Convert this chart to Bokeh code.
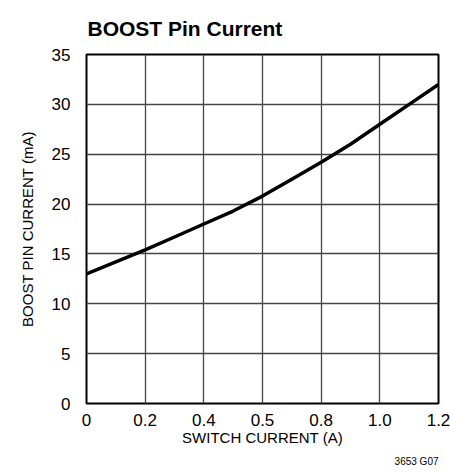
from bokeh.plotting import figure
from bokeh.models import Range1d, FixedTicker, Title, CustomJSTickFormatter
from bokeh.embed import file_html
from bokeh.resources import INLINE

# data
switch_current = [0.0, 0.1, 0.2, 0.3, 0.4, 0.5, 0.6, 0.7, 0.8, 0.9, 1.0, 1.1, 1.2]
boost_current = [13.0, 14.2, 15.4, 16.7, 18.0, 19.3, 20.8, 22.5, 24.2, 26.0, 28.0, 30.0, 32.0]
x_ticks = [0, 0.2, 0.4, 0.6, 0.8, 1.0, 1.2]
x_tick_labels = ["0", "0.2", "0.4", "0.5", "0.8", "1.0", "1.2"]
y_ticks = [0, 5, 10, 15, 20, 25, 30, 35]

FONT = "Liberation Sans"

p = figure(width=450, height=472, output_backend="svg", toolbar_location=None,
           x_range=Range1d(0, 1.2), y_range=Range1d(0, 35),
           min_border_left=86, min_border_right=12, min_border_top=53, min_border_bottom=69)

p.title.text = "BOOST Pin Current"
p.title.text_font = FONT
p.title.text_font_size = "21px"
p.title.text_font_style = "bold"
p.title.text_color = "black"
p.title.align = "left"
p.title.offset = 1
p.title.standoff = 29

p.outline_line_color = "black"
p.outline_line_width = 2
p.outline_line_alpha = 1

p.xaxis.ticker = FixedTicker(ticks=x_ticks)
p.yaxis.ticker = FixedTicker(ticks=y_ticks)
p.xaxis.formatter = CustomJSTickFormatter(args=dict(labels=x_tick_labels),
                                          code="return labels[index];")
for ax in (p.xaxis, p.yaxis):
    ax.axis_line_color = None
    ax.major_tick_line_color = None
    ax.minor_tick_line_color = None
    ax.major_label_text_font = FONT
    ax.major_label_text_font_size = "17px"
    ax.major_label_text_color = "black"
    ax.axis_label_text_font = FONT
    ax.axis_label_text_font_size = "15px"
    ax.axis_label_text_font_style = "normal"
    ax.axis_label_text_color = "black"
p.xaxis.major_label_standoff = 4
p.yaxis.major_label_standoff = 10
p.xaxis.axis_label = "SWITCH CURRENT (A)"
p.xaxis.axis_label_standoff = 0
p.yaxis.axis_label = "BOOST PIN CURRENT (mA)"
p.yaxis.axis_label_standoff = 13

p.grid.grid_line_color = "#444444"
p.grid.grid_line_width = 1.3
p.grid.grid_line_alpha = 1
p.xgrid.ticker = FixedTicker(ticks=x_ticks)
p.ygrid.ticker = FixedTicker(ticks=y_ticks)

p.line(switch_current, boost_current, line_color="black", line_width=3.5,
       line_join="round")

note = Title(text="3653 G07", align="right", text_font=FONT, text_font_size="10px",
             text_font_style="normal", text_color="black", standoff=11, offset=0)
p.add_layout(note, "below")

open("out.html", "w").write(file_html(p, INLINE))
